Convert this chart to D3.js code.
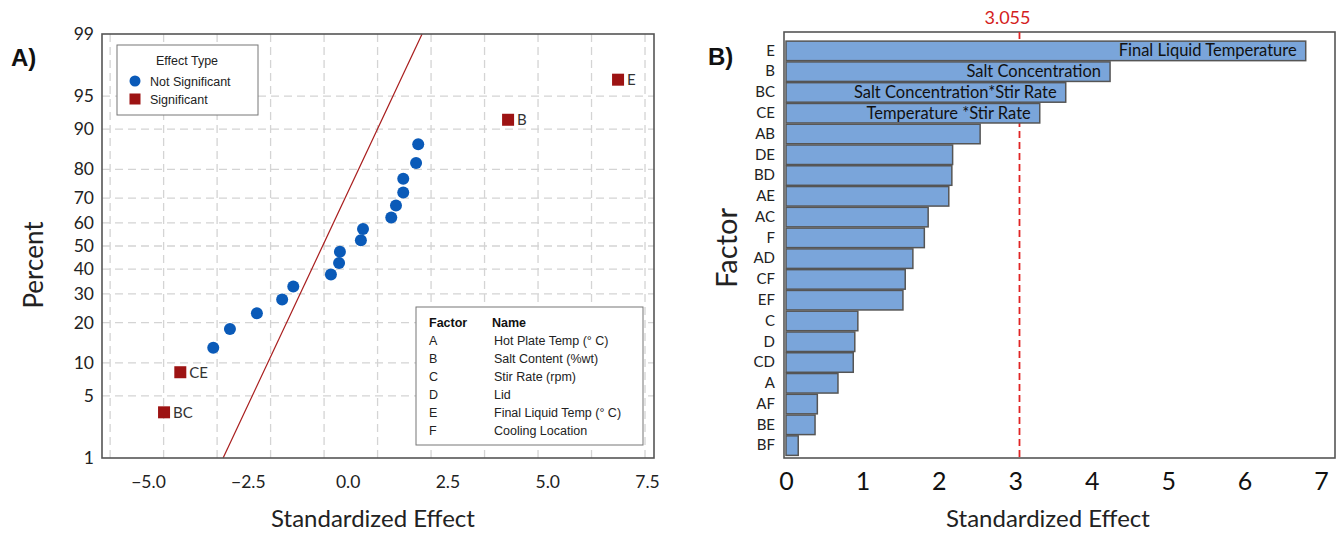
<!DOCTYPE html>
<html><head><meta charset="utf-8">
<script src="https://cdn.jsdelivr.net/npm/d3@7"></script>
<style>body{margin:0;background:#fff}svg{display:block}</style>
</head><body><svg id="c" width="1344" height="535"></svg>
<script>
// ---------- Panel A: normal plot of standardized effects ----------
const effectValues   = [-3.74,-3.36,-2.59,-2.20,-1.57,-0.98,-0.72,0.16,0.35,0.37,0.86,0.91,1.57,1.68,1.85,1.85,2.15,2.20,4.30,6.87];
const effectPercents = [3.4,8.3,13.2,18.1,23.0,27.9,32.8,37.7,42.6,47.5,52.5,57.4,62.3,67.2,72.1,77.0,81.9,86.8,91.7,96.6];
const effectLabels   = ["BC","CE","","","","","","","","","","","","","","","","","B","E"];
const fitPercents = [1, 99];
const fitEffects  = [-2.36, 2.29];
const yTicksA = [1,5,10,20,30,40,50,60,70,80,90,95,99];
const gridYA  = [5,10,20,30,40,50,60,70,80,90,95];
const gridXA  = [-5,-3.75,-2.5,-1.25,0,1.25,2.5,3.75,5,6.25,7.5];
const xTickLabelsA = [-5.0,-2.5,0.0,2.5,5.0,7.5];
const effectTypes = ["Not Significant","Significant"];
const factorCodes = ["A","B","C","D","E","F"];
const factorNames = ["Hot Plate Temp (° C)","Salt Content (%wt)","Stir Rate (rpm)","Lid","Final Liquid Temp (° C)","Cooling Location"];

// ---------- Panel B: Pareto of standardized effects ----------
const paretoFactors = ["E","B","BC","CE","AB","DE","BD","AE","AC","F","AD","CF","EF","C","D","CD","A","AF","BE","BF"];
const paretoValues  = [6.80,4.24,3.66,3.32,2.54,2.18,2.17,2.13,1.86,1.81,1.66,1.56,1.53,0.94,0.90,0.88,0.68,0.41,0.38,0.16];
const barTextFactors = ["E","B","BC","CE"];
const barTexts = ["Final Liquid Temperature","Salt Concentration","Salt Concentration*Stir Rate","Temperature *Stir Rate"];
const threshold = 3.055;
const xTicksB = [0,1,2,3,4,5,6,7];

function probit(p){
  const a=[-3.969683028665376e+01,2.209460984245205e+02,-2.759285104469687e+02,1.383577518672690e+02,-3.066479806614716e+01,2.506628277459239e+00];
  const b=[-5.447609879822406e+01,1.615858368580409e+02,-1.556989798598866e+02,6.680131188771972e+01,-1.328068155288572e+01];
  const c=[-7.784894002430293e-03,-3.223964580411365e-01,-2.400758277161838e+00,-2.549732539343734e+00,4.374664141464968e+00,2.938163982698783e+00];
  const d=[7.784695709041462e-03,3.224671290700398e-01,2.445134137142996e+00,3.754408661907416e+00];
  const pl=0.02425, ph=1-pl; let q,r;
  if(p<pl){q=Math.sqrt(-2*Math.log(p));return (((((c[0]*q+c[1])*q+c[2])*q+c[3])*q+c[4])*q+c[5])/((((d[0]*q+d[1])*q+d[2])*q+d[3])*q+1);}
  if(p<=ph){q=p-0.5;r=q*q;return (((((a[0]*r+a[1])*r+a[2])*r+a[3])*r+a[4])*r+a[5])*q/(((((b[0]*r+b[1])*r+b[2])*r+b[3])*r+b[4])*r+1);}
  q=Math.sqrt(-2*Math.log(1-p));return -(((((c[0]*q+c[1])*q+c[2])*q+c[3])*q+c[4])*q+c[5])/((((d[0]*q+d[1])*q+d[2])*q+d[3])*q+1);
}

const svg = d3.select("#c");
svg.append("rect").attr("width",1344).attr("height",535).attr("fill","#fff");
const CAL = "Lato, 'Open Sans', sans-serif";
const ARI = "'Liberation Sans', Arial, sans-serif";

// ===== Panel A =====
const A = {l:102, r:654, t:34, b:458};
const xA = d3.scaleLinear().domain([-5.19, 7.71]).range([A.l, A.r]);
const zA = d3.scaleLinear().domain([probit(0.01), probit(0.99)]).range([A.b, A.t]);
const yA = p => zA(probit(p/100));
const xLabA = d3.scaleLinear().domain([-5, 7.5]).range([148, 647]);

const gA = svg.append("g");
gA.append("g").selectAll("line").data(gridXA).join("line")
  .attr("x1",d=>xA(d)).attr("x2",d=>xA(d)).attr("y1",A.t).attr("y2",A.b)
  .attr("stroke","#d4d4d4").attr("stroke-width",1.3).attr("stroke-dasharray","8,5");
gA.append("g").selectAll("line").data(gridYA).join("line")
  .attr("y1",d=>yA(d)).attr("y2",d=>yA(d)).attr("x1",A.l).attr("x2",A.r)
  .attr("stroke","#d4d4d4").attr("stroke-width",1.3).attr("stroke-dasharray","8,5");

// fit line
gA.append("line")
  .attr("x1",xA(fitEffects[0])).attr("y1",yA(fitPercents[0]))
  .attr("x2",xA(fitEffects[1])).attr("y2",yA(fitPercents[1]))
  .attr("stroke","#a81c1c").attr("stroke-width",1.2);

const pts = effectValues.map((v,i)=>({v, p:effectPercents[i], lab:effectLabels[i]}));
gA.append("g").selectAll("circle").data(pts.filter(d=>!d.lab)).join("circle")
  .attr("cx",d=>xA(d.v)).attr("cy",d=>yA(d.p)).attr("r",6).attr("fill","#0a5ab8");
const sig = pts.filter(d=>d.lab);
gA.append("g").selectAll("rect").data(sig).join("rect")
  .attr("x",d=>xA(d.v)-6).attr("y",d=>yA(d.p)-6).attr("width",12).attr("height",12).attr("fill","#9d1313");
gA.append("g").selectAll("text").data(sig).join("text")
  .attr("x",d=>xA(d.v)+9).attr("y",d=>yA(d.p)+5.5)
  .attr("font-family",CAL).attr("font-size",15).attr("fill","#333").text(d=>d.lab);

// frame
gA.append("rect").attr("x",A.l).attr("y",A.t).attr("width",A.r-A.l).attr("height",A.b-A.t)
  .attr("fill","none").attr("stroke","#555").attr("stroke-width",1.6);

// y axis
const yAxA = d3.axisLeft(zA).tickValues(yTicksA.map(p=>probit(p/100))).tickFormat((d,i)=>yTicksA[i]).tickSize(0).tickPadding(8);
const gyA = gA.append("g").attr("transform",`translate(${A.l},0)`).call(yAxA);
gyA.select(".domain").remove();
gyA.selectAll("text").attr("font-family",CAL).attr("font-size",17.5).attr("fill","#222");

// x axis labels
const xAxA = d3.axisBottom(xLabA).tickValues(xTickLabelsA).tickFormat(d3.format(".1f")).tickSize(0);
const gxA = gA.append("g").attr("transform",`translate(0,${A.b})`).call(xAxA);
gxA.select(".domain").remove();
gxA.selectAll("text").attr("font-family",CAL).attr("font-size",17.5).attr("fill","#222").attr("y",30).attr("dy",null);

gA.append("text").attr("x",373).attr("y",527).attr("text-anchor","middle")
  .attr("font-family",CAL).attr("font-size",24).attr("fill","#222").text("Standardized Effect");
gA.append("text").attr("transform","translate(43,265) rotate(-90)").attr("text-anchor","middle")
  .attr("font-family",CAL).attr("font-size",26).attr("fill","#222").text("Percent");
gA.append("text").attr("x",11).attr("y",66).attr("font-family",ARI).attr("font-weight","bold")
  .attr("font-size",24).attr("fill","#111").text("A)");

// legend: effect type
const lg = gA.append("g");
lg.append("rect").attr("x",117).attr("y",45).attr("width",141).attr("height",70)
  .attr("fill","#fff").attr("stroke","#777").attr("stroke-width",1);
lg.append("text").attr("x",187).attr("y",65).attr("text-anchor","middle")
  .attr("font-family",ARI).attr("font-size",12.5).attr("fill","#222").text("Effect Type");
lg.selectAll(".lt").data(effectTypes).join("text").attr("class","lt")
  .attr("x",150).attr("y",(d,i)=>86+i*18).attr("font-family",ARI).attr("font-size",12.5).attr("fill","#222").text(d=>d);
lg.append("circle").attr("cx",135).attr("cy",81).attr("r",5.5).attr("fill","#0a5ab8");
lg.append("rect").attr("x",129.5).attr("y",93.5).attr("width",11).attr("height",11).attr("fill","#9d1313");

// legend: factor names
const fl = gA.append("g");
fl.append("rect").attr("x",416).attr("y",307).attr("width",227).attr("height",138)
  .attr("fill","#fff").attr("stroke","#777").attr("stroke-width",1);
fl.append("text").attr("x",429).attr("y",327).attr("font-family",ARI).attr("font-size",12.5).attr("font-weight","bold").attr("fill","#111").text("Factor");
fl.append("text").attr("x",492).attr("y",327).attr("font-family",ARI).attr("font-size",12.5).attr("font-weight","bold").attr("fill","#111").text("Name");
fl.selectAll(".fc").data(factorCodes).join("text").attr("class","fc")
  .attr("x",429).attr("y",(d,i)=>345+i*18).attr("font-family",ARI).attr("font-size",12.5).attr("fill","#222").text(d=>d);
fl.selectAll(".fn").data(factorNames).join("text").attr("class","fn")
  .attr("x",494).attr("y",(d,i)=>345+i*18).attr("font-family",ARI).attr("font-size",12.5).attr("fill","#222").text(d=>d);

// ===== Panel B =====
const B = {l:784, r:1335, t:32, b:458};
const xB = d3.scaleLinear().domain([0,7]).range([786,1321]);
const yB = d3.scaleBand().domain(paretoFactors).range([40.5,456]).paddingInner(0.06).paddingOuter(0.03);
const gB = svg.append("g");

gB.append("rect").attr("x",B.l).attr("y",B.t).attr("width",B.r-B.l).attr("height",B.b-B.t)
  .attr("fill","none").attr("stroke","#555").attr("stroke-width",1.6);
gB.append("line").attr("x1",xB(threshold)).attr("x2",xB(threshold)).attr("y1",B.t).attr("y2",B.b)
  .attr("stroke","#e02424").attr("stroke-width",1.8).attr("stroke-dasharray","7,4");
gB.append("text").attr("x",xB(threshold)-12).attr("y",24).attr("text-anchor","middle")
  .attr("font-family",CAL).attr("font-size",18).attr("fill","#d42020").text(threshold.toFixed(3));

const bars = paretoFactors.map((f,i)=>({f, v:paretoValues[i]}));
gB.append("g").selectAll("rect").data(bars).join("rect")
  .attr("x",xB(0)).attr("y",d=>yB(d.f)).attr("width",d=>xB(d.v)-xB(0)).attr("height",yB.bandwidth())
  .attr("fill","#7aa5da").attr("stroke","#555").attr("stroke-width",1.5);
gB.append("g").selectAll("text").data(barTextFactors).join("text")
  .attr("x",d=>xB(paretoValues[paretoFactors.indexOf(d)])-9).attr("y",d=>yB(d)+yB.bandwidth()/2+5.5)
  .attr("text-anchor","end").attr("font-family",CAL).attr("font-size",16.5).attr("fill","#111")
  .text((d,i)=>barTexts[i]);

const yAxB = d3.axisLeft(yB).tickSize(0).tickPadding(9);
const gyB = gB.append("g").attr("transform",`translate(${B.l},0)`).call(yAxB);
gyB.select(".domain").remove();
gyB.selectAll("text").attr("font-family",CAL).attr("font-size",15).attr("fill","#222");

const xAxB = d3.axisBottom(xB).tickValues(xTicksB).tickFormat(d3.format("d")).tickSize(0);
const gxB = gB.append("g").attr("transform",`translate(0,${B.b})`).call(xAxB);
gxB.select(".domain").remove();
gxB.selectAll("text").attr("font-family",CAL).attr("font-size",25).attr("fill","#111").attr("y",32).attr("dy",null);

gB.append("text").attr("x",1048).attr("y",527).attr("text-anchor","middle")
  .attr("font-family",CAL).attr("font-size",24).attr("fill","#222").text("Standardized Effect");
gB.append("text").attr("transform","translate(737,248) rotate(-90)").attr("text-anchor","middle")
  .attr("font-family",CAL).attr("font-size",29).attr("fill","#222").text("Factor");
gB.append("text").attr("x",708).attr("y",65).attr("font-family",ARI).attr("font-weight","bold")
  .attr("font-size",24).attr("fill","#111").text("B)");
</script></body></html>
